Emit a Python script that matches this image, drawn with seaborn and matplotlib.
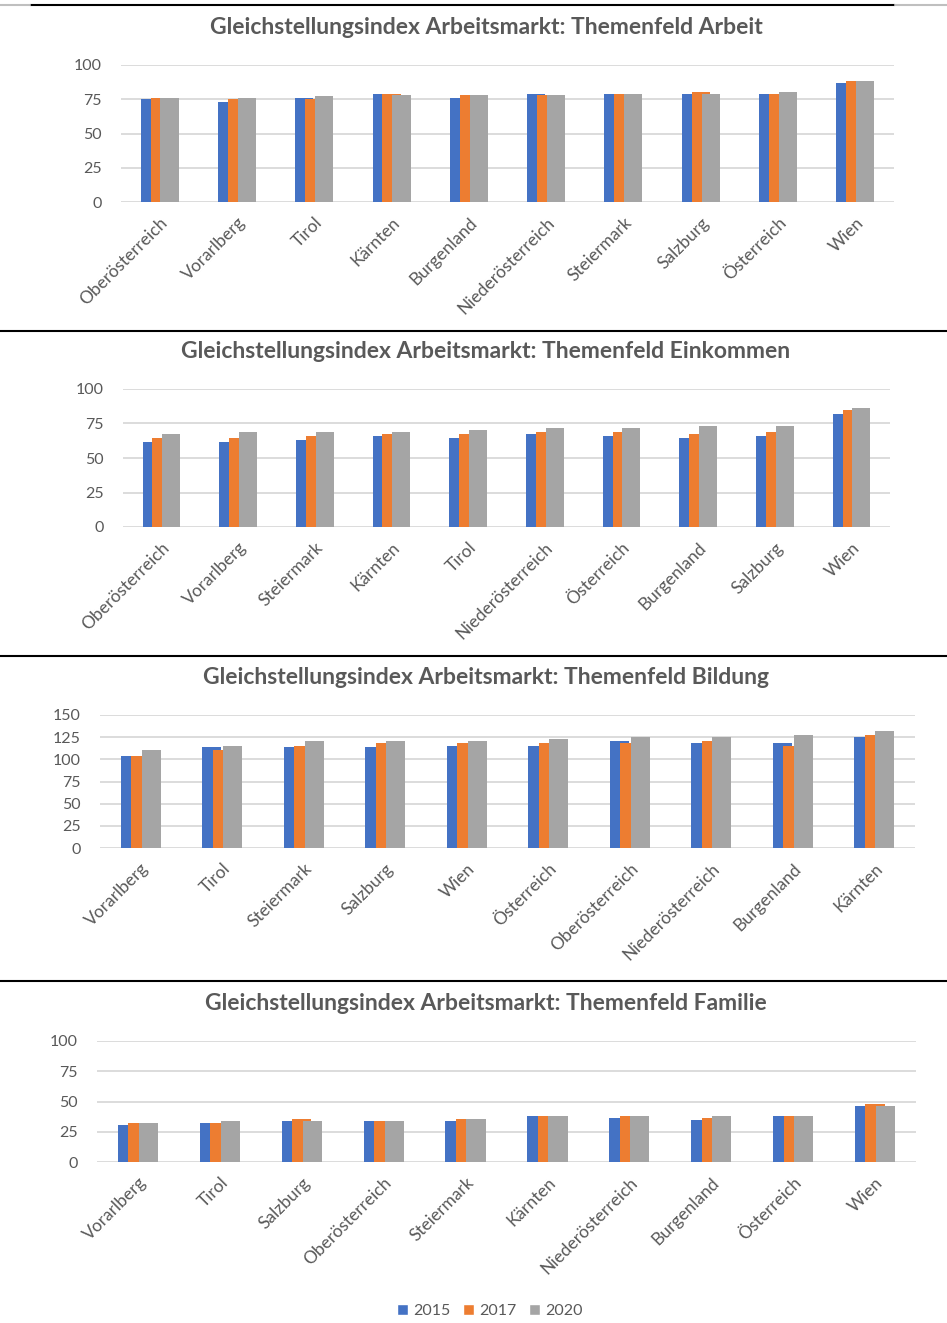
import numpy as np
import pandas as pd
import matplotlib
matplotlib.use("Agg")
import matplotlib.pyplot as plt
import seaborn as sns
from matplotlib.patches import Patch
from matplotlib.lines import Line2D

sns.set_theme(style="white")
plt.rcParams['font.family'] = ['Lato', 'DejaVu Sans']

YEARS = ["2015", "2017", "2020"]
COLORS = ["#4472C4", "#ED7D31", "#A5A5A5"]
TEXT = "#595959"
GRID = "#D9D9D9"

# Themenfeld Arbeit
arbeit_regions = ["Oberösterreich", "Vorarlberg", "Tirol", "Kärnten", "Burgenland",
                  "Niederösterreich", "Steiermark", "Salzburg", "Österreich", "Wien"]
arbeit_2015 = [75, 73, 76, 79, 76, 79, 79, 79, 79, 87]
arbeit_2017 = [76, 75, 75, 79, 78, 78, 79, 80.5, 79, 88.5]
arbeit_2020 = [76, 76, 77.5, 78, 78, 78, 79, 79, 80.5, 88.5]

# Themenfeld Einkommen
einkommen_regions = ["Oberösterreich", "Vorarlberg", "Steiermark", "Kärnten", "Tirol",
                     "Niederösterreich", "Österreich", "Burgenland", "Salzburg", "Wien"]
einkommen_2015 = [61.5, 61.5, 63, 66, 64.5, 67.5, 66, 64.5, 66, 82]
einkommen_2017 = [64.5, 64.5, 66, 67.5, 67.5, 69, 69, 67.5, 69, 85]
einkommen_2020 = [67.5, 69, 69, 69, 70.5, 72, 72, 73.5, 73.5, 86]

# Themenfeld Bildung
bildung_regions = ["Vorarlberg", "Tirol", "Steiermark", "Salzburg", "Wien",
                   "Österreich", "Oberösterreich", "Niederösterreich", "Burgenland", "Kärnten"]
bildung_2015 = [104, 113.5, 113.5, 113.5, 115.5, 115.5, 120.5, 118, 118, 125]
bildung_2017 = [104, 111, 115.5, 118, 118, 118, 118, 120.5, 115.5, 127]
bildung_2020 = [111, 115.5, 120.5, 120.5, 120.5, 122.5, 125, 125, 127, 131.5]

# Themenfeld Familie
familie_regions = ["Vorarlberg", "Tirol", "Salzburg", "Oberösterreich", "Steiermark",
                   "Kärnten", "Niederösterreich", "Burgenland", "Österreich", "Wien"]
familie_2015 = [30.5, 32, 34, 34, 34, 38, 36, 34.5, 38, 46]
familie_2017 = [32, 32, 35.5, 34, 35.5, 38, 38, 36, 38, 48]
familie_2020 = [32, 34, 34, 34, 35.5, 38, 38, 38, 38, 46]

panels = [
    ("Gleichstellungsindex Arbeitsmarkt: Themenfeld Arbeit", arbeit_regions,
     [arbeit_2015, arbeit_2017, arbeit_2020], 100, (121, 894, 65, 202)),
    ("Gleichstellungsindex Arbeitsmarkt: Themenfeld Einkommen", einkommen_regions,
     [einkommen_2015, einkommen_2017, einkommen_2020], 100, (123, 890, 389, 527)),
    ("Gleichstellungsindex Arbeitsmarkt: Themenfeld Bildung", bildung_regions,
     [bildung_2015, bildung_2017, bildung_2020], 150, (100, 915, 715, 848)),
    ("Gleichstellungsindex Arbeitsmarkt: Themenfeld Familie", familie_regions,
     [familie_2015, familie_2017, familie_2020], 100, (97, 916, 1041, 1162)),
]

W, H = 947, 1323
fig = plt.figure(figsize=(W / 100, H / 100), dpi=100)

BAR_W = 0.235
STEP = 0.128

for title, regions, series, ymax, (x0, x1, ytop, ybot) in panels:
    ax = fig.add_axes([x0 / W, 1 - ybot / H, (x1 - x0) / W, (ybot - ytop) / H])
    df = pd.DataFrame({
        "region": [r for r in regions for _ in YEARS],
        "year": [y for _ in regions for y in YEARS],
        "value": [series[k][i] for i in range(len(regions)) for k in range(3)],
    })
    sns.barplot(data=df, x="region", y="value", hue="year", order=regions,
                hue_order=YEARS, palette=COLORS, width=3 * STEP, gap=0,
                legend=False, ax=ax, saturation=1, zorder=3)
    # Excel-style overlapping bars: widen each bar around its own center
    for p in ax.patches:
        cx = p.get_x() + p.get_width() / 2
        p.set_width(BAR_W)
        p.set_x(cx - BAR_W / 2)
        p.set_edgecolor("none")
    ax.set_xlim(-0.5, len(regions) - 0.5)
    ax.set_ylim(0, ymax)
    ax.set_yticks(np.arange(0, ymax + 1, 25))
    ax.yaxis.grid(True, color=GRID, linewidth=1.3, zorder=0)
    ax.set_axisbelow(True)
    sns.despine(ax=ax, left=True, bottom=True)
    ax.set_xlabel("")
    ax.set_ylabel("")
    ax.tick_params(axis="both", length=0, colors=TEXT)
    ax.tick_params(axis="y", pad=14, labelsize=11.5)
    ax.tick_params(axis="x", pad=9, labelsize=12.5)
    for lbl in ax.get_xticklabels():
        lbl.set_rotation(45)
        lbl.set_ha("right")
        lbl.set_rotation_mode("anchor")
    fig.text(486 / W, 1 - (ytop - 38) / H, title, ha="center", va="center",
             fontsize=16.5, fontweight="bold", color=TEXT)

# separators between the stacked charts
for yy in (331, 656, 981):
    fig.add_artist(Line2D([0, 1], [1 - yy / H] * 2, color="black", linewidth=1.5))
fig.add_artist(Line2D([30 / W, 895 / W], [1 - 5 / H] * 2, color="black", linewidth=1.5))
fig.add_artist(Line2D([0, 30 / W], [1 - 5 / H] * 2, color="#BFBFBF", linewidth=1.5))
fig.add_artist(Line2D([895 / W, 1], [1 - 5 / H] * 2, color="#BFBFBF", linewidth=1.5))

handles = [Patch(facecolor=c, label=y) for c, y in zip(COLORS, YEARS)]
fig.legend(handles=handles, loc="center", bbox_to_anchor=(490 / W, 1 - 1311 / H),
           ncol=3, frameon=False, fontsize=11.5, handlelength=0.7, handleheight=0.7,
           handletextpad=0.3, columnspacing=0.8, labelcolor=TEXT)

fig.savefig("out.png", dpi=100, facecolor="white")
